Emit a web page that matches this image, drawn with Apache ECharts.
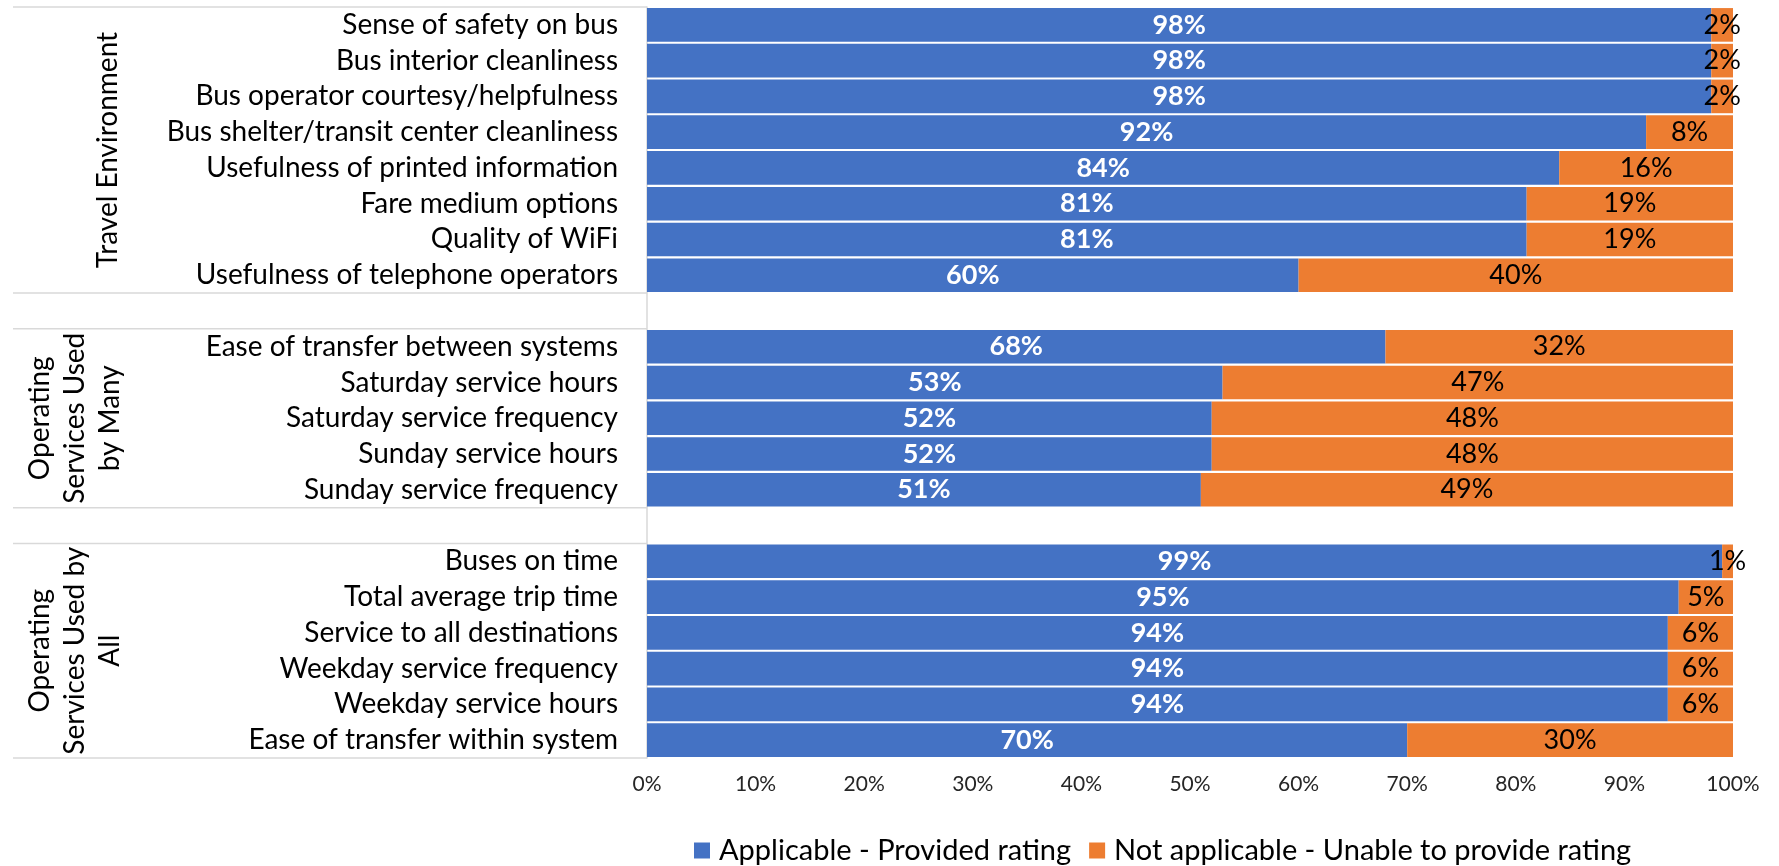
<!DOCTYPE html>
<html>
<head>
<meta charset="utf-8">
<title>Rating applicability by service attribute</title>
<script src="https://cdn.jsdelivr.net/npm/echarts@6/dist/echarts.min.js"></script>
<style>
  html, body { margin: 0; padding: 0; background: #fff; }
  #chart { width: 1779px; height: 866px; }
</style>
</head>
<body>
<div id="chart"></div>
<script>
// Attributes, top to bottom; the blank entries are spacer rows between groups
const categories = [
  'Sense of safety on bus',
  'Bus interior cleanliness',
  'Bus operator courtesy/helpfulness',
  'Bus shelter/transit center cleanliness',
  'Usefulness of printed information',
  'Fare medium options',
  'Quality of WiFi',
  'Usefulness of telephone operators',
  ' ',
  'Ease of transfer between systems',
  'Saturday service hours',
  'Saturday service frequency',
  'Sunday service hours',
  'Sunday service frequency',
  '  ',
  'Buses on time',
  'Total average trip time',
  'Service to all destinations',
  'Weekday service frequency',
  'Weekday service hours',
  'Ease of transfer within system'
];

// Share of respondents (%)
const applicable    = [98, 98, 98, 92, 84, 81, 81, 60, null, 68, 53, 52, 52, 51, null, 99, 95, 94, 94, 94, 70];
const notApplicable = [2, 2, 2, 8, 16, 19, 19, 40, null, 32, 47, 48, 48, 49, null, 1, 5, 6, 6, 6, 30];

const seriesNames = ['Applicable - Provided rating', 'Not applicable - Unable to provide rating'];

// Outer category level: label and first/last row index of each group
const groupNames = ['Travel Environment', 'Operating\nServices Used\nby Many', 'Operating\nServices Used by\nAll'];
const groupSpans = [[0, 7], [9, 13], [15, 20]];

const xTicks = { min: 0, max: 100, step: 10 };

const FONT = 'Lato, "Open Sans", sans-serif';
const chart = echarts.init(document.getElementById('chart'));

chart.setOption({
  animation: false,
  textStyle: { fontFamily: FONT },
  grid: { left: 647, right: 46, top: 7, bottom: 108, containLabel: false },
  legend: {
    data: seriesNames,
    left: 689,
    top: 831,
    icon: 'rect',
    itemWidth: 16,
    itemHeight: 16,
    itemGap: 18,
    textStyle: { fontSize: 29, color: '#000', fontFamily: FONT, padding: [0, 0, 0, 4] }
  },
  xAxis: {
    type: 'value',
    min: xTicks.min,
    max: xTicks.max,
    interval: xTicks.step,
    axisLine: { show: false },
    axisTick: { show: false },
    splitLine: { show: false },
    axisLabel: { formatter: '{value}%', fontSize: 21, color: '#262626', margin: 16, fontFamily: FONT }
  },
  yAxis: {
    type: 'category',
    inverse: true,
    data: categories,
    axisTick: { show: false },
    axisLine: { show: true, lineStyle: { color: '#d9d9d9', width: 1.5 } },
    axisLabel: { interval: 0, fontSize: 28, color: '#000', margin: 29, fontFamily: FONT }
  },
  series: [
    {
      name: seriesNames[0],
      type: 'bar',
      stack: 'total',
      data: applicable,
      barCategoryGap: '6%',
      itemStyle: { color: '#4472C4' },
      label: {
        show: true, position: 'inside', formatter: '{c}%',
        color: '#fff', fontWeight: 'bold', fontSize: 27, fontFamily: FONT
      }
    },
    {
      name: seriesNames[1],
      type: 'bar',
      stack: 'total',
      data: notApplicable,
      barCategoryGap: '6%',
      itemStyle: { color: '#ED7D31' },
      label: {
        show: true, position: 'inside', formatter: '{c}%',
        color: '#000', fontSize: 27, fontFamily: FONT
      }
    }
  ]
});

// Multi-level axis: separator lines on group edges and rotated group names
function drawGroupAxis() {
  const yPix = i => chart.convertToPixel({ yAxisIndex: 0 }, i);
  const band = Math.abs(yPix(1) - yPix(0));
  const axisX = chart.convertToPixel({ xAxisIndex: 0 }, xTicks.min);
  const edges = [];
  groupSpans.forEach(([a, b]) => {
    edges.push(yPix(a) - band / 2, yPix(b) + band / 2);
  });
  const elements = edges.map(y => ({
    type: 'line',
    silent: true,
    shape: { x1: 13, y1: y, x2: axisX, y2: y },
    style: { stroke: '#d9d9d9', lineWidth: 1.5 }
  }));
  const labelX = [108, 75, 75];
  groupNames.forEach((name, g) => {
    const [a, b] = groupSpans[g];
    elements.push({
      type: 'text',
      silent: true,
      x: labelX[g],
      y: (yPix(a) + yPix(b)) / 2,
      rotation: Math.PI / 2,
      style: {
        text: name,
        font: '28px ' + FONT,
        fill: '#000',
        align: 'center',
        verticalAlign: 'middle',
        lineHeight: 35
      }
    });
  });
  chart.setOption({ graphic: { elements } });
}
drawGroupAxis();
</script>
</body>
</html>
